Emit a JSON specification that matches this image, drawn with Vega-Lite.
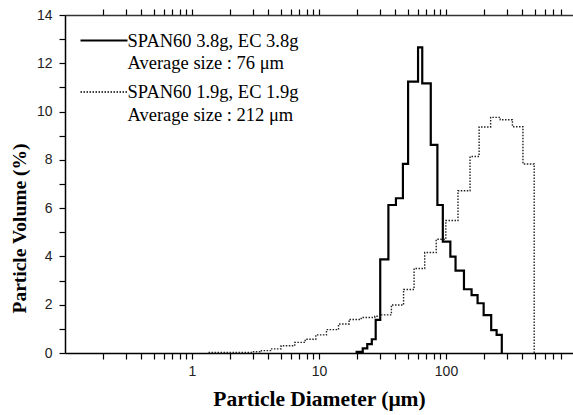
{
  "$schema": "https://vega.github.io/schema/vega-lite/v6.json",
  "width": 508,
  "height": 338,
  "autosize": "none",
  "padding": {"left": 65, "top": 15, "right": 0, "bottom": 62},
  "background": "white",
  "config": {"view": {"stroke": null}, "axis": {"grid": false}},
  "datasets": {
    "solid": [
      {"i": 0, "d": 19.79, "v": 0},
      {"i": 1, "d": 19.79, "v": 0.05},
      {"i": 2, "d": 22.1, "v": 0.19},
      {"i": 3, "d": 23.99, "v": 0.37},
      {"i": 4, "d": 26.05, "v": 0.57},
      {"i": 5, "d": 27.95, "v": 1.37},
      {"i": 6, "d": 30.35, "v": 3.88},
      {"i": 7, "d": 35.19, "v": 6.13},
      {"i": 8, "d": 40.34, "v": 6.41},
      {"i": 9, "d": 45.79, "v": 7.83},
      {"i": 10, "d": 50.29, "v": 11.24},
      {"i": 11, "d": 60.26, "v": 12.66},
      {"i": 12, "d": 65.01, "v": 11.17},
      {"i": 13, "d": 75.86, "v": 8.62},
      {"i": 14, "d": 85.55, "v": 6.13},
      {"i": 15, "d": 94.41, "v": 4.61},
      {"i": 16, "d": 108.2, "v": 3.99},
      {"i": 17, "d": 118.9, "v": 3.41},
      {"i": 18, "d": 138.5, "v": 2.64},
      {"i": 19, "d": 159.0, "v": 2.4},
      {"i": 20, "d": 177.3, "v": 2.06},
      {"i": 21, "d": 197.9, "v": 1.57},
      {"i": 22, "d": 226.9, "v": 0.95},
      {"i": 23, "d": 250.3, "v": 0.75},
      {"i": 24, "d": 275.0, "v": 0}
    ],
    "dotted": [
      {"i": 0, "d": 1.35, "v": 0.02},
      {"i": 1, "d": 2.985, "v": 0.05},
      {"i": 2, "d": 3.52, "v": 0.1},
      {"i": 3, "d": 4.15, "v": 0.17},
      {"i": 4, "d": 5.03, "v": 0.3},
      {"i": 5, "d": 6.44, "v": 0.44},
      {"i": 6, "d": 7.79, "v": 0.57},
      {"i": 7, "d": 9.44, "v": 0.75},
      {"i": 8, "d": 11.45, "v": 0.97},
      {"i": 9, "d": 14.24, "v": 1.2},
      {"i": 10, "d": 17.27, "v": 1.39},
      {"i": 11, "d": 21.49, "v": 1.47},
      {"i": 12, "d": 27.5, "v": 1.52},
      {"i": 13, "d": 30.7, "v": 1.58},
      {"i": 14, "d": 37.16, "v": 1.99},
      {"i": 15, "d": 46.33, "v": 2.63},
      {"i": 16, "d": 56.06, "v": 3.5},
      {"i": 17, "d": 67.96, "v": 4.16},
      {"i": 18, "d": 83.74, "v": 4.71},
      {"i": 19, "d": 99.67, "v": 5.49},
      {"i": 20, "d": 124.3, "v": 6.72},
      {"i": 21, "d": 154.6, "v": 8.14},
      {"i": 22, "d": 182.3, "v": 9.36},
      {"i": 23, "d": 224.6, "v": 9.76},
      {"i": 24, "d": 267.4, "v": 9.66},
      {"i": 25, "d": 333.4, "v": 9.37},
      {"i": 26, "d": 403.5, "v": 7.83},
      {"i": 27, "d": 494.8, "v": 0}
    ]
  },
  "resolve": {"axis": {"x": "independent", "y": "independent"}},
  "layer": [
    {
      "data": {"name": "solid"},
      "transform": [{"calculate": "'SPAN60 3.8g, EC 3.8g|\u00a0Average size : 76 μm'", "as": "s"}],
      "mark": {"type": "line", "interpolate": "step-after", "color": "black"},
      "encoding": {
        "x": {
          "field": "d", "type": "quantitative",
          "scale": {"type": "log", "domain": [0.2, 840]},
          "axis": {
            "orient": "bottom",
            "values": [0.2,0.3,0.4,0.5,0.6,0.7,0.8,0.9,1,2,3,4,5,6,7,8,9,10,20,30,40,50,60,70,80,90,100,200,300,400,500,600,700,800],
            "labelExpr": "datum.value == 1 || datum.value == 10 || datum.value == 100 ? datum.value + '' : ''",
            "labelOverlap": false, "labelFlush": false,
            "tickSize": 6,
            "encode": {"ticks": {"update": {"y2": {"signal": "datum.value == 1 || datum.value == 10 || datum.value == 100 ? -6 : -3.5"}}}},
            "tickColor": "black", "tickWidth": 1.2, "domainColor": "black", "domainWidth": 1.5,
            "labelFont": "Liberation Sans", "labelFontSize": 14, "labelColor": "#222", "labelPadding": 5,
            "title": "Particle Diameter (μm)", "titleFont": "Liberation Serif", "titleFontSize": 21.5,
            "titleFontWeight": "bold", "titleColor": "black", "titleBaseline": "alphabetic", "titleY": 52
          }
        },
        "y": {
          "field": "v", "type": "quantitative",
          "scale": {"domain": [0, 14]},
          "axis": {
            "orient": "left",
            "values": [0,1,2,3,4,5,6,7,8,9,10,11,12,13,14],
            "labelExpr": "datum.value % 2 == 0 ? datum.value + '' : ''",
            "labelOverlap": false, "labelFlush": false,
            "tickSize": 6,
            "encode": {"ticks": {"update": {"x2": {"signal": "datum.value % 2 == 0 ? 6.5 : 4"}}}},
            "tickColor": "black", "tickWidth": 1.2, "domainColor": "black", "domainWidth": 1.5,
            "labelFont": "Liberation Sans", "labelFontSize": 14, "labelColor": "#222", "labelPadding": 7,
            "title": "Particle Volume (%)", "titleFont": "Liberation Serif", "titleFontSize": 19.5,
            "titleFontWeight": "bold", "titleColor": "black", "titleBaseline": "alphabetic",
            "titleAngle": 270, "titleX": -40, "titleY": 213
          }
        },
        "order": {"field": "i", "type": "quantitative"},
        "strokeDash": {
          "field": "s", "type": "nominal",
          "scale": {"domain": ["SPAN60 3.8g, EC 3.8g|\u00a0Average size : 76 μm", "SPAN60 1.9g, EC 1.9g|\u00a0Average size : 212 μm"], "range": [[1, 0], [1.5, 1.5]]},
          "legend": {
            "orient": "none", "legendX": 14, "legendY": 14, "title": null,
            "symbolType": "M-2.35,0H2.35", "symbolSize": 400, "symbolOffset": 13.5,
            "symbolStrokeColor": "black", "symbolStrokeWidth": 1.8,
            "labelExpr": "split(datum.label, '|')",
            "labelFont": "Liberation Serif", "labelFontSize": 18.5, "labelColor": "black",
            "labelLimit": 400, "labelOffset": 12, "rowPadding": 8, "padding": 0,
            "labelBaseline": "alphabetic",
            "encode": {"labels": {"update": {"dy": {"value": 6}, "lineHeight": {"value": 22.5}}}}
          }
        },
        "strokeWidth": {
          "field": "s", "type": "nominal",
          "scale": {"domain": ["SPAN60 3.8g, EC 3.8g|\u00a0Average size : 76 μm", "SPAN60 1.9g, EC 1.9g|\u00a0Average size : 212 μm"], "range": [2.2, 1.4]},
          "legend": null
        }
      }
    },
    {
      "data": {"name": "dotted"},
      "transform": [{"calculate": "'SPAN60 1.9g, EC 1.9g|\u00a0Average size : 212 μm'", "as": "s"}],
      "mark": {"type": "line", "interpolate": "step-after", "color": "#222"},
      "encoding": {
        "x": {
          "field": "d", "type": "quantitative",
          "axis": {
            "orient": "top",
            "values": [0.2,0.3,0.4,0.5,0.6,0.7,0.8,0.9,1,2,3,4,5,6,7,8,9,10,20,30,40,50,60,70,80,90,100,200,300,400,500,600,700,800],
            "labels": false, "title": null,
            "tickSize": 6,
            "encode": {"ticks": {"update": {"y2": {"signal": "datum.value == 1 || datum.value == 10 || datum.value == 100 ? 6 : 3.5"}}}},
            "tickColor": "black", "tickWidth": 1.2, "domainColor": "#333", "domainWidth": 1.5
          }
        },
        "y": {
          "field": "v", "type": "quantitative",
          "axis": {
            "orient": "right",
            "values": [0,1,2,3,4,5,6,7,8,9,10,11,12,13,14],
            "labels": false, "title": null, "domain": false,
            "tickSize": 6,
            "encode": {"ticks": {"update": {"x2": {"signal": "datum.value % 2 == 0 ? -6.5 : -4"}}}},
            "tickColor": "black", "tickWidth": 1.2
          }
        },
        "order": {"field": "i", "type": "quantitative"},
        "strokeDash": {"field": "s", "type": "nominal"},
        "strokeWidth": {"field": "s", "type": "nominal", "legend": null}
      }
    }
  ]
}
